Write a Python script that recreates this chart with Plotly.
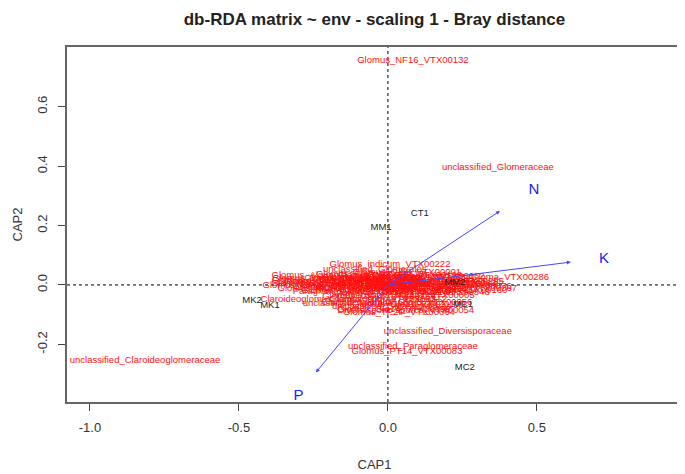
import plotly.graph_objects as go

# ---- data ----
species_names = [
    "Glomus_NF16_VTX00132", "unclassified_Glomeraceae", "unclassified_Claroideoglomeraceae",
    "unclassified_Diversisporaceae", "unclassified_Paraglomeraceae", "Glomus_PT14_VTX00083",
    "Glomus_indicum_VTX00222", "unclassified_Glomerales", "Glomus_Glo8_VTX00001",
    "Glomus_MO-G3_Gloma_VTX00286", "Glomus_Glo59_VTX00076", "Claroideoglomus_lamellosum_VTX00193",
    "Paraglomus_brasilianum_VTX00240", "Glomus_Glo3_VTX00348", "Glomus_TP2P_VTX00064",
    "unclassified_Gigasporaceae", "unclassified_Archaeosporaceae",
    "Glomus_Glo2_VTX00280", "Glomus_Alguacil12b_VTX00143", "Glomus_Glo6_VTX00156",
    "Glomus_MO-G18_VTX00199", "Glomus_Glo7_VTX00214", "Glomus_viscosum_VTX00063",
    "Glomus_MO-G7_VTX00105", "Glomus_Glo4_VTX00129", "Rhizophagus_irregularis_VTX00114",
    "Glomus_Glo12_VTX00092", "Glomus_Yamato09_A1_VTX00130", "Glomus_MO-G5_VTX00135",
    "Acaulospora_Acau8_VTX00026", "Diversispora_Div_VTX00062", "Glomus_Glo13_VTX00140",
    "Glomus_Glo18_VTX00137", "Archaeospora_trappei_VTX00005", "Glomus_Glo16_VTX00164",
    "Funneliformis_mosseae_VTX00067", "Glomus_Glo-A_VTX00295", "Glomus_Alguacil12a_VTX00166",
    "Glomus_MO-G13_VTX00108", "Glomus_Glo9_VTX00418", "Glomus_Glo-A9_VTX00312",
    "Claroideoglomus_Glo-B_VTX00056", "Glomus_Glo11_VTX00100", "Glomus_Glo14_VTX00096",
    "Diversispora_spurca_VTX00054", "Glomus_Glo21_VTX00113", "Glomus_Glo1_VTX00125",
    "Glomus_Glo27_VTX00172", "Glomus_Glo31_VTX00154", "Glomus_Glo33_VTX00219",
    "Glomus_Glo41_VTX00247", "Glomus_MO-G4_VTX00099", "Glomus_Glo15_VTX00126",
    "Glomus_Glo19_VTX00148", "Glomus_Glo24_VTX00160", "Glomus_Glo39_VTX00193",
    "Glomus_Glo47_VTX00304", "Glomus_Glo52_VTX00309",
]
species_cap1 = [
    0.084, 0.369, -0.815,
    0.201, 0.084, 0.064,
    0.007, -0.044, 0.064,
    0.285, 0.225, -0.134,
    -0.060, 0.160, 0.037,
    0.013, -0.060,
    -0.210, -0.120, -0.050,
    0.020, 0.090, 0.150,
    -0.170, -0.080, 0.010,
    0.110, -0.140, -0.020,
    0.060, 0.120, -0.200,
    -0.100, 0.050, -0.030,
    0.180, 0.200, -0.160,
    0.040, -0.060, 0.000,
    0.030, 0.070, 0.020,
    0.060, -0.110, 0.130,
    -0.230, -0.180, -0.040,
    0.100, 0.170, -0.130,
    0.030, 0.210, -0.090,
    0.140, -0.010,
]
species_cap2 = [
    0.755, 0.394, -0.255,
    -0.157, -0.208, -0.225,
    0.067, 0.052, 0.040,
    0.024, -0.007, -0.050,
    -0.024, -0.027, -0.094,
    -0.074, -0.064,
    0.005, 0.012, 0.002,
    0.008, -0.004, 0.006,
    -0.012, -0.008, -0.015,
    -0.017, 0.022, 0.026,
    0.020, 0.028, 0.016,
    -0.020, -0.035, -0.038,
    -0.012, 0.012, 0.032,
    0.030, 0.036, -0.048,
    -0.058, -0.066, -0.082,
    -0.085, 0.000, 0.000,
    -0.002, 0.010, 0.014,
    0.012, 0.000, -0.004,
    -0.026, -0.018, 0.020,
    0.004, -0.004,
]

site_names = ["MM1", "CT1", "MK2", "MK1", "MM2", "MC1", "MC2"]
site_cap1 = [-0.023, 0.107, -0.456, -0.396, 0.225, 0.252, 0.258]
site_cap2 = [0.192, 0.239, -0.054, -0.071, 0.007, -0.067, -0.279]

env_names = ["N", "K", "P"]
env_cap1 = [0.376, 0.614, -0.242]
env_cap2 = [0.249, 0.077, -0.295]
env_label_cap1 = [0.490, 0.725, -0.300]
env_label_cap2 = [0.320, 0.088, -0.374]

x_ticks = [-1.0, -0.5, 0.0, 0.5]
y_ticks = [-0.2, 0.0, 0.2, 0.4, 0.6]

FONT = "Liberation Sans, Arial, sans-serif"
W, H = 685, 474
OFF = 8  # default page body margin
ML = 67 - OFF

fig = go.Figure()

fig.add_trace(go.Scatter(
    x=species_cap1, y=species_cap2, text=species_names, mode="text",
    textfont=dict(family=FONT, size=9.5, color="#ff1010"), hoverinfo="text",
    showlegend=False,
))
fig.add_trace(go.Scatter(
    x=site_cap1, y=site_cap2, text=site_names, mode="text",
    textfont=dict(family=FONT, size=9.5, color="#222222"), hoverinfo="text",
    showlegend=False,
))
fig.add_trace(go.Scatter(
    x=env_label_cap1, y=env_label_cap2, text=env_names, mode="text",
    textfont=dict(family=FONT, size=15, color="#2020ff"), hoverinfo="text",
    showlegend=False,
))

for xe, ye in zip(env_cap1, env_cap2):
    fig.add_annotation(
        x=xe, y=ye, ax=0, ay=0, xref="x", yref="y", axref="x", ayref="y",
        showarrow=True, arrowhead=2, arrowsize=0.8, arrowwidth=1,
        arrowcolor="#4646ff", text="",
    )

# y-axis title placed explicitly (kept inside the figure so it is not clipped)
fig.add_annotation(
    text="CAP2", xref="paper", yref="paper", x=0, y=0.5,
    xanchor="center", yanchor="middle", xshift=-(67 - 17), showarrow=False,
    textangle=-90, font=dict(family=FONT, size=13, color="#333333"),
)

# dotted zero lines
fig.add_shape(type="line", xref="x", yref="paper", x0=0, x1=0, y0=0, y1=1,
              line=dict(color="black", width=1, dash="dot"), layer="below")
fig.add_shape(type="line", xref="paper", yref="y", x0=0, x1=1, y0=0, y1=0,
              line=dict(color="black", width=1, dash="dot"), layer="below")

axis_common = dict(
    showgrid=False, zeroline=False, showline=True, mirror=True,
    linecolor="#666666", linewidth=1.5, ticks="outside", ticklen=7,
    tickcolor="#444444", tickwidth=1, automargin=False, ticklabelstandoff=6,
    tickfont=dict(family=FONT, size=13, color="#333333"),
)

fig.update_layout(
    width=W, height=H,
    margin=dict(l=ML, r=3 + OFF, t=47 - OFF, b=72 + OFF, pad=0),
    paper_bgcolor="white", plot_bgcolor="white",
    title=dict(
        text="<b>db-RDA matrix ~ env - scaling 1 - Bray distance</b>",
        font=dict(family=FONT, size=17, color="#222222"),
        x=(374.5 - OFF) / W, xanchor="center", xref="container",
        y=1 - (19 - OFF) / H, yref="container", yanchor="middle",
    ),
    xaxis=dict(
        range=[-1.077, 0.987], tickvals=x_ticks,
        ticktext=[f"{v:.1f}" for v in x_ticks],
        title=dict(text="CAP1", font=dict(family=FONT, size=13, color="#333333"), standoff=26),
        **axis_common,
    ),
    yaxis=dict(
        range=[-0.394, 0.801], tickvals=y_ticks,
        ticktext=[f"{v:.1f}" for v in y_ticks], tickangle=-90,
        **axis_common,
    ),
)

fig.write_html("out.html")
